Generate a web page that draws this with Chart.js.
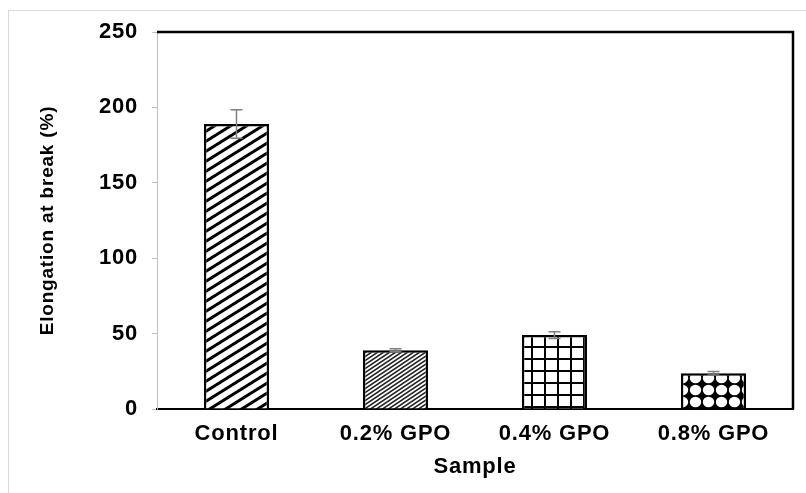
<!DOCTYPE html>
<html>
<head>
<meta charset="utf-8">
<script src="https://cdn.jsdelivr.net/npm/chart.js@4/dist/chart.umd.min.js"></script>
<style>
  html,body{margin:0;padding:0;background:#fff;}
  #wrap{position:relative;width:806px;height:493px;overflow:hidden;}
  #frame{position:absolute;left:8px;top:10px;width:820px;height:500px;border:1px solid #d9d9d9;box-sizing:border-box;}
  canvas{position:absolute;left:0;top:0;}
</style>
</head>
<body>
<div id="wrap">
  <div id="frame"></div>
  <canvas id="c" width="806" height="493"></canvas>
</div>
<script>
// data
const samples = ['Control', '0.2% GPO', '0.4% GPO', '0.8% GPO'];
const elongation = [189, 39, 49, 23.7];
const errors = [9.5, 1, 2.3, 1.2];
const yTicks = [0, 50, 100, 150, 200, 250];

const FONT = 'Liberation Sans, Arial, sans-serif';
const font = {family:FONT, size:22, weight:'bold'};

function tile(w, h, draw){
  const cv = document.createElement('canvas');
  cv.width = w; cv.height = h;
  const g = cv.getContext('2d');
  g.fillStyle = '#fff'; g.fillRect(0,0,w,h);
  draw(g, w, h);
  return document.getElementById('c').getContext('2d').createPattern(cv, 'repeat');
}
// wide upward diagonal
const pWide = tile(16, 10, (g,w,h)=>{
  g.strokeStyle='#000'; g.lineWidth=3;
  for(const dy of [-h,0,h]){ g.beginPath(); g.moveTo(-2, h+dy+2*h/w); g.lineTo(w+2, dy-2*h/w); g.stroke(); }
});
// fine diagonal
const pFine = tile(6, 4, (g,w,h)=>{
  g.strokeStyle='#222'; g.lineWidth=1.5;
  for(const dy of [-h,0,h]){ g.beginPath(); g.moveTo(-1, h+dy+h/w); g.lineTo(w+1, dy-h/w); g.stroke(); }
});
// grid
const pGrid = tile(13, 12, (g,w,h)=>{
  g.fillStyle='#000'; g.fillRect(w-2,0,2,h); g.fillRect(0,h-2,w,2);
});
// sphere / dots
const pDots = tile(13, 12, (g,w,h)=>{
  g.fillStyle='#000'; g.fillRect(0,0,w,h);
  g.fillStyle='#fff'; g.beginPath(); g.ellipse(w/2,h/2,w/2-0.8,h/2-0.8,0,0,Math.PI*2); g.fill();
});

// the reference lettering is a little wider than plain Arial
const spacing = {
  id:'spacing',
  beforeUpdate(chart){ chart.ctx.letterSpacing = '0.8px'; },
  beforeDraw(chart){ chart.ctx.letterSpacing = '0.8px'; }
};

const frameLines = {
  id:'frameLines',
  afterDraw(chart){
    const {ctx, chartArea:a} = chart;
    ctx.save();
    ctx.strokeStyle='#000'; ctx.lineWidth=2.5;
    ctx.beginPath(); ctx.moveTo(a.left, a.top); ctx.lineTo(a.right, a.top); ctx.lineTo(a.right, a.bottom); ctx.stroke();
    ctx.restore();
  }
};

const errorBars = {
  id:'errorBars',
  afterDatasetsDraw(chart){
    const {ctx} = chart;
    const y = chart.scales.y;
    const meta = chart.getDatasetMeta(0);
    ctx.save();
    ctx.strokeStyle='#7f7f7f'; ctx.lineWidth=1.5;
    meta.data.forEach((bar,i)=>{
      const x = bar.x;
      const hi = y.getPixelForValue(elongation[i]+errors[i]);
      const lo = y.getPixelForValue(elongation[i]-errors[i]);
      ctx.beginPath();
      ctx.moveTo(x, hi); ctx.lineTo(x, lo);
      ctx.moveTo(x-6, hi); ctx.lineTo(x+6, hi);
      ctx.moveTo(x-6, lo); ctx.lineTo(x+6, lo);
      ctx.stroke();
    });
    ctx.restore();
  }
};

new Chart(document.getElementById('c'), {
  type:'bar',
  data:{
    labels: samples,
    datasets:[{
      data: elongation,
      backgroundColor:[pWide, pFine, pGrid, pDots],
      borderColor:'#000',
      borderWidth:2.5,
      barPercentage:0.41,
      categoryPercentage:1
    }]
  },
  options:{
    responsive:false,
    animation:false,
    layout:{padding:{left:0, top:32, right:13, bottom:0}},
    plugins:{legend:{display:false}, tooltip:{enabled:false}},
    scales:{
      x:{
        grid:{display:true, drawOnChartArea:false, drawTicks:false},
        border:{color:'#000', width:2},
        ticks:{color:'#000', padding:12, font},
        title:{display:true, text:'Sample', color:'#000', padding:{top:0,bottom:13}, font},
        afterFit(s){ s.height = 84; }
      },
      y:{
        min:0, max:250,
        afterBuildTicks(s){ s.ticks = yTicks.map(v=>({value:v})); },
        grid:{drawOnChartArea:false, drawTicks:true, tickLength:5, color:'#bfbfbf'},
        border:{color:'#bfbfbf', width:1},
        ticks:{color:'#000', padding:14, font},
        title:{display:true, text:'Elongation at break (%)', color:'#000', padding:{top:36,bottom:0}, font:{family:FONT, size:19, weight:'bold'}},
        afterFit(s){ s.width = 157; }
      }
    }
  },
  plugins:[spacing, errorBars, frameLines]
});
</script>
</body>
</html>
